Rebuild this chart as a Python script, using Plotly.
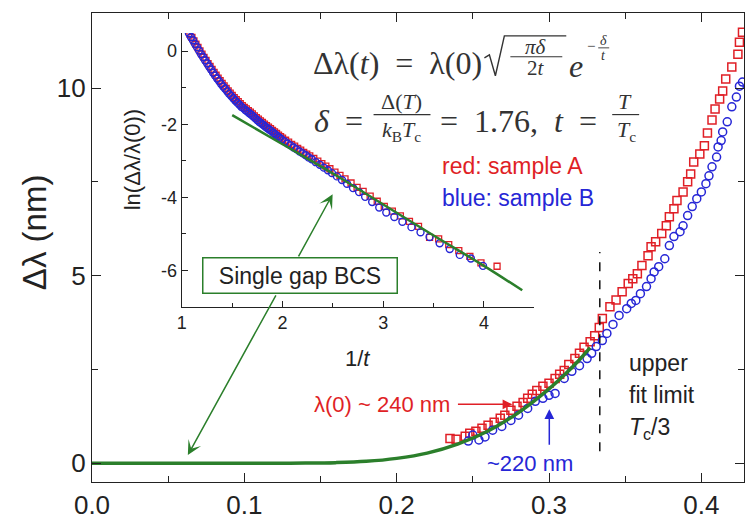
import plotly.graph_objects as go

# ---------------- data ----------------
# main panel: sample A (red squares)
t_A = [0.235,0.239,0.245,0.248,0.252,0.256,0.260,0.264,0.268,0.271,0.275,0.279,0.283,0.286,0.289,
       0.292,0.296,0.300,0.304,0.307,0.310,0.313,0.317,0.320,0.323,0.327,0.330,0.333,0.335,0.340,
       0.344,0.348,0.352,0.355,0.358,0.361,0.365,0.367,0.370,0.374,0.377,0.379,0.382,0.384,0.388,
       0.391,0.393,0.395,0.399,0.402,0.404,0.407,0.409,0.412,0.414,0.416,0.420,0.424,0.425,0.427]
dl_A = [0.66,0.64,0.72,0.80,0.85,0.93,1.01,1.09,1.20,1.28,1.41,1.52,1.62,1.73,1.84,
        1.94,2.05,2.13,2.26,2.37,2.47,2.63,2.79,2.93,3.09,3.24,3.40,3.62,3.86,4.17,
        4.35,4.57,4.79,4.92,5.05,5.27,5.53,5.77,5.90,6.12,6.33,6.57,6.78,7.00,7.23,
        7.50,7.71,8.03,8.24,8.46,8.80,9.15,9.44,9.71,9.92,10.24,10.56,10.90,11.22,11.49]
# main panel: sample B (blue circles)
t_B = [0.247,0.250,0.254,0.258,0.263,0.269,0.275,0.280,0.286,0.291,0.296,0.300,0.304,0.310,0.315,
       0.320,0.325,0.328,0.331,0.335,0.338,0.342,0.346,0.351,0.354,0.357,0.360,0.364,0.367,0.369,
       0.372,0.376,0.379,0.382,0.386,0.388,0.391,0.394,0.397,0.400,0.403,0.405,0.407,0.410,0.411,
       0.413,0.414,0.417,0.420,0.423,0.425,0.427]
dl_B = [0.59,0.75,0.62,0.70,0.88,0.98,1.14,1.28,1.46,1.65,1.73,1.81,1.86,2.26,2.45,
        2.60,2.79,2.93,3.11,3.27,3.46,3.70,3.94,4.12,4.26,4.34,4.52,4.71,4.92,5.10,
        5.24,5.45,5.80,6.04,6.17,6.33,6.60,6.84,7.05,7.23,7.45,7.66,7.90,8.16,8.43,
        8.60,8.83,9.10,9.50,9.76,10.05,10.16]
# main panel: single gap BCS curve
t_fit = [0.0,0.05,0.10,0.12,0.14,0.16,0.18,0.20,0.22,0.24,0.26,0.28,0.30,0.31,0.32,0.327]
dl_fit = [0.0,0.0,0.0,0.001,0.004,0.016,0.05,0.13,0.27,0.51,0.86,1.35,1.98,2.35,2.76,3.08]

# inset: ln(dl/l0) vs 1/t
u_B = [1.07,1.09,1.11,1.13,1.15,1.17,1.19,1.21,1.23,1.25,1.27,1.29,1.31,1.33,1.35,1.37,1.39,1.41,
       1.43,1.45,1.47,1.49,1.51,1.53,1.55,1.57,1.59,1.61,1.63,1.65,1.67,1.69,1.71,1.73,1.75,1.77,
       1.79,1.81,1.83,1.85,1.87,1.89,1.91,1.93,1.95,1.97,1.99,2.02,2.05,2.08,2.11,2.14,2.17,2.20,
       2.23,2.26,2.29,2.33,2.37,2.41,2.45,2.49,2.54,2.59,2.64,2.70,2.76,2.82,2.89,2.96,3.03,3.11,
       3.19,3.28,3.37,3.46,3.56,3.66,3.76,3.87,3.99]
ln_B = [0.49,0.39,0.30,0.20,0.11,0.02,-0.08,-0.16,-0.25,-0.33,-0.42,-0.50,-0.59,-0.67,-0.75,-0.82,
        -0.90,-0.97,-1.03,-1.10,-1.17,-1.23,-1.29,-1.35,-1.41,-1.46,-1.52,-1.56,-1.61,-1.65,-1.70,
        -1.74,-1.79,-1.84,-1.89,-1.94,-1.98,-2.02,-2.07,-2.11,-2.15,-2.19,-2.24,-2.28,-2.33,-2.37,
        -2.41,-2.47,-2.53,-2.58,-2.64,-2.69,-2.75,-2.80,-2.85,-2.91,-2.96,-3.04,-3.11,-3.19,-3.26,
        -3.34,-3.43,-3.53,-3.63,-3.75,-3.86,-3.99,-4.13,-4.28,-4.42,-4.54,-4.67,-4.82,-4.96,-5.09,
        -5.26,-5.42,-5.58,-5.68,-5.88]
u_A = [1.08,1.10,1.12,1.14,1.16,1.18,1.20,1.22,1.24,1.26,1.28,1.30,1.32,1.34,1.36,1.38,1.40,1.42,
       1.44,1.46,1.48,1.50,1.52,1.54,1.56,1.58,1.60,1.62,1.64,1.66,1.68,1.70,1.72,1.74,1.76,1.78,
       1.80,1.82,1.84,1.86,1.88,1.90,1.92,1.94,1.96,1.98,2.00,2.03,2.06,2.09,2.12,2.15,2.18,2.21,
       2.24,2.27,2.31,2.35,2.39,2.43,2.47,2.52,2.57,2.62,2.68,2.74,2.80,2.87,2.94,3.01,3.09,3.17,
       3.26,3.35,3.46,3.55,3.65,3.75,3.86,3.97,4.13]
ln_A = [0.47,0.38,0.28,0.19,0.10,0.01,-0.08,-0.17,-0.25,-0.34,-0.42,-0.50,-0.58,-0.66,-0.74,-0.81,
        -0.88,-0.95,-1.02,-1.09,-1.15,-1.21,-1.27,-1.33,-1.38,-1.44,-1.49,-1.54,-1.58,-1.63,-1.67,
        -1.72,-1.77,-1.82,-1.86,-1.91,-1.95,-2.00,-2.04,-2.08,-2.12,-2.17,-2.21,-2.25,-2.30,-2.34,
        -2.38,-2.44,-2.49,-2.55,-2.60,-2.66,-2.71,-2.77,-2.82,-2.87,-2.94,-3.01,-3.08,-3.15,-3.22,
        -3.31,-3.40,-3.50,-3.61,-3.73,-3.84,-3.97,-4.11,-4.25,-4.38,-4.51,-4.66,-4.80,-5.10,-5.14,
        -5.30,-5.46,-5.62,-5.80,-5.89]
u_fit = [1.5,2.0,2.5,3.0,3.5,4.0,4.38]
ln_fit = [-1.75,-2.55,-3.35,-4.20,-5.05,-5.88,-6.55]

x_ticks_in = [1,2,3,4]
y_ticks_in = [0,-2,-4,-6]
y_ticklabels_in = ["0","-2","-4","-6"]

# ---------------- styling ----------------
RED = "#e01f26"
BLUE = "#2626d6"
GREEN = "#2b7f2b"
INK = "#222222"
SANS = "Liberation Sans, Arial, sans-serif"
SERIF = "Liberation Serif, Times New Roman, serif"

W, H = 745, 520
ML, MR, MT, MB = 92, 0, 13, 36
XR = [0, 0.428]
YR = [-0.5, 12]
PW, PH = W - ML - MR, H - MT - MB


def X(px):  # pixel position -> main x coordinate (for placing decorations)
    return XR[0] + (px - ML) / PW * (XR[1] - XR[0])


def Y(py):
    return YR[1] - (py - MT) / PH * (YR[1] - YR[0])


fig = go.Figure()

# inset traces
fig.add_trace(go.Scatter(x=u_A, y=ln_A, mode="markers", xaxis="x2", yaxis="y2",
                         marker=dict(symbol="square-open", size=6, color=RED, line=dict(width=1.3, color=RED)),
                         showlegend=False))
fig.add_trace(go.Scatter(x=u_B, y=ln_B, mode="markers", xaxis="x2", yaxis="y2",
                         marker=dict(symbol="circle-open", size=7, color=BLUE, line=dict(width=1.4, color=BLUE)),
                         showlegend=False))
fig.add_trace(go.Scatter(x=u_fit, y=ln_fit, mode="lines", xaxis="x2", yaxis="y2",
                         line=dict(color=GREEN, width=2.5, shape="spline"), showlegend=False))

# main traces
fig.add_trace(go.Scatter(x=t_A, y=dl_A, mode="markers",
                         marker=dict(symbol="square-open", size=8, color=RED, line=dict(width=1.5, color=RED)),
                         showlegend=False))
fig.add_trace(go.Scatter(x=t_B, y=dl_B, mode="markers",
                         marker=dict(symbol="circle-open", size=8, color=BLUE, line=dict(width=1.5, color=BLUE)),
                         showlegend=False))
fig.add_trace(go.Scatter(x=t_fit, y=dl_fit, mode="lines",
                         line=dict(color=GREEN, width=3.5, shape="spline"), showlegend=False))

axis_common = dict(showline=True, linecolor=INK, linewidth=1.3, ticks="inside", tickcolor=INK,
                   tickwidth=1.3, showgrid=False, zeroline=False)

fig.update_layout(
    width=W, height=H, autosize=False,
    margin=dict(l=ML, r=MR, t=MT, b=MB, pad=0),
    paper_bgcolor="white", plot_bgcolor="white",
    font=dict(family=SANS, color=INK),
    xaxis=dict(range=XR, dtick=0.1, tick0=0, tickformat=".1f", mirror="allticks", ticklen=9,
               tickfont=dict(size=26, color=INK), domain=[0, 1],
               minor=dict(dtick=0.05, tick0=0, ticks="inside", ticklen=6, tickwidth=1.3, tickcolor=INK),
               **axis_common),
    yaxis=dict(range=YR, dtick=5, tick0=0, mirror="allticks", ticklen=9,
               tickfont=dict(size=26, color=INK), domain=[0, 1],
               minor=dict(dtick=2.5, tick0=0, ticks="inside", ticklen=6, tickwidth=1.3, tickcolor=INK),
               **axis_common),
    xaxis2=dict(range=[1, 4.5], tickvals=x_ticks_in, anchor="y2", ticklen=6,
                domain=[(182 - ML) / PW, (535 - ML) / PW],
                tickfont=dict(size=18, color=INK),
                minor=dict(dtick=0.5, tick0=1, ticks="inside", ticklen=4, tickwidth=1.2, tickcolor=INK),
                **axis_common),
    yaxis2=dict(range=[-7, 0.5], tickvals=y_ticks_in, ticktext=y_ticklabels_in, anchor="x2", ticklen=6,
                domain=[(H - MB - 308) / PH, (H - MB - 33) / PH],
                tickfont=dict(size=18, color=INK),
                minor=dict(dtick=1, tick0=0, ticks="inside", ticklen=4, tickwidth=1.2, tickcolor=INK),
                **axis_common),
)

anns = []


def txt(text, px, py, size, color=INK, family=SANS, xa="center", ya="middle", angle=0, **kw):
    d = dict(text=text, x=X(px), y=Y(py), xref="x", yref="y", showarrow=False,
             xanchor=xa, yanchor=ya, textangle=angle,
             font=dict(size=size, color=color, family=family))
    d.update(kw)
    anns.append(d)


def arrow(x0, y0, x1, y1, color, width=1.5, head=2, hs=1.2):
    anns.append(dict(x=X(x1), y=Y(y1), ax=X(x0), ay=Y(y0), xref="x", yref="y", axref="x", ayref="y",
                     text="", showarrow=True, arrowhead=head, arrowsize=hs, arrowwidth=width,
                     arrowcolor=color))


shapes = []


def hline(x0, x1, py, width=1.2, color="#333"):
    shapes.append(dict(type="line", xref="x", yref="y", x0=X(x0), x1=X(x1), y0=Y(py), y1=Y(py),
                       line=dict(color=color, width=width)))


# main y-axis title (paper coordinates, outside the plot area)
anns.append(dict(text="Δλ (nm)", x=(34 - ML) / PW, y=(H - MB - 233) / PH, xref="paper", yref="paper",
                 showarrow=False, xanchor="center", yanchor="middle", textangle=-90,
                 font=dict(size=33, color=INK, family=SANS)))
txt("ln(Δλ/λ(0))", 132, 160, 22, angle=-90)
txt("1/<i>t</i>", 358, 360, 22)

# formula (line 1)
FC = "#333333"
SP = "\u2002"
txt(f"Δλ(<i>t</i>){SP}={SP}λ(0)", 311, 63, 32, color=FC, family=SERIF, xa="left")
# radical sign
rad = (f"M {X(485)},{Y(58)} L {X(490)},{Y(55)} L {X(496)},{Y(76)} "
       f"L {X(505)},{Y(36)} L {X(567)},{Y(36)}")
shapes.append(dict(type="path", xref="x", yref="y", path=rad, line=dict(color=FC, width=1.4)))
txt("<i>πδ</i>", 537, 47, 21, color=FC, family=SERIF)
hline(511, 563, 57, 1.1, FC)
txt("2<i>t</i>", 537, 68, 21, color=FC, family=SERIF)
txt("<i>e</i>", 577, 66, 32, color=FC, family=SERIF)
txt("−", 592, 46, 15, color=FC, family=SERIF)
txt("<i>δ</i>", 604, 41, 14, color=FC, family=SERIF)
hline(599, 610, 48, 0.9, FC)
txt("<i>t</i>", 604, 56, 14, color=FC, family=SERIF)
# formula (line 2)
txt(f"<i>δ</i>{SP}=", 312, 121, 32, color=FC, family=SERIF, xa="left")
txt("Δ(<i>T</i>)", 402, 102, 22, color=FC, family=SERIF)
hline(374, 431, 115, 1.2, FC)
txt("<i>k</i><sub>B</sub><i>T</i><sub>c</sub>", 402, 131, 22, color=FC, family=SERIF)
txt(f"={SP}1.76,{SP}<i>t</i>{SP}=", 439, 121, 32, color=FC, family=SERIF, xa="left")
txt("<i>T</i>", 626, 102, 22, color=FC, family=SERIF)
hline(613, 640, 115, 1.2, FC)
txt("<i>T</i><sub>c</sub>", 627, 131, 22, color=FC, family=SERIF)

txt("red: sample A", 441, 167, 23, color=RED, xa="left")
txt("blue: sample B", 441, 199, 23, color=BLUE, xa="left")

# single gap BCS label and arrows
arrow(277, 295, 188, 457, GREEN, 1.5, head=3, hs=1.6)
arrow(298, 259, 333, 195, GREEN, 1.5, head=3, hs=1.6)
txt("Single gap BCS", 300, 277, 23, bordercolor=GREEN, borderwidth=1.5, borderpad=2,
    bgcolor="white", width=189, height=30)

# lambda(0) labels
txt("λ(0) ~ 240 nm", 453, 406, 22, color=RED, xa="right")
arrow(457, 406, 513, 406, RED, 1.5, head=2, hs=1.3)
txt("~220 nm", 531, 465, 22, color=BLUE)
arrow(550, 448, 550, 411, BLUE, 1.5, head=2, hs=1.3)

# upper fit limit
shapes.append(dict(type="line", xref="x", yref="y", x0=1 / 3, x1=1 / 3, y0=Y(453), y1=Y(253),
                   line=dict(color="#111", width=1.5, dash="dash")))
txt("upper", 628, 364, 23, xa="left")
txt("fit limit", 628, 397, 23, xa="left")
txt("<i>T</i><sub>c</sub>/3", 628, 430, 23, xa="left")

fig.update_layout(annotations=anns, shapes=shapes)
fig.write_html("out.html")
